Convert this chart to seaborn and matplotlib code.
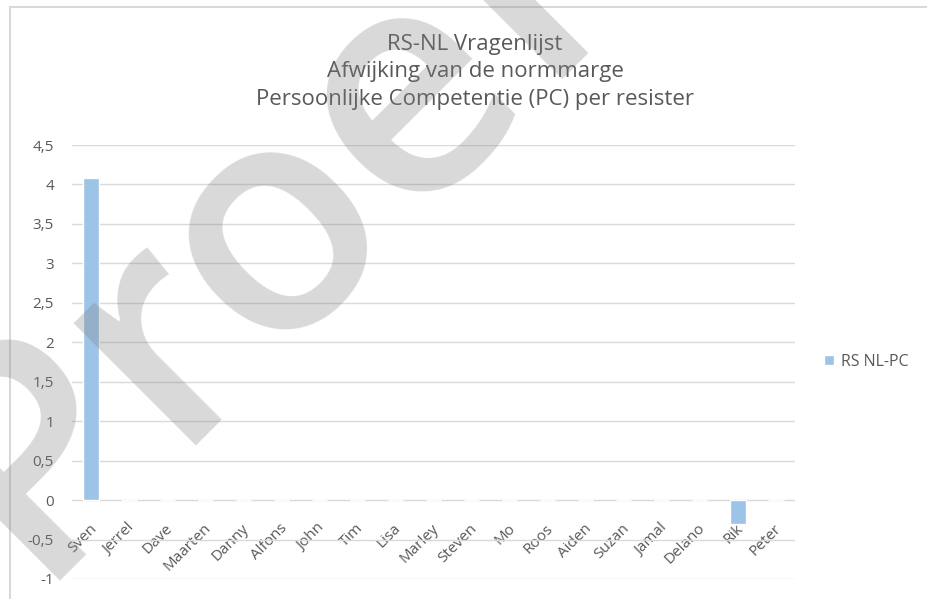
import matplotlib
matplotlib.use("Agg")
import matplotlib.pyplot as plt
import matplotlib.transforms as mtrans
import seaborn as sns
import pandas as pd
from matplotlib.patches import Rectangle, Patch
from matplotlib.ticker import FuncFormatter

# ==========================================
# DATA
# ==========================================
namen = ["Sven", "Jerrel", "Dave", "Maarten", "Danny", "Alfons", "John", "Tim",
         "Lisa", "Marley", "Steven", "Mo", "Roos", "Aiden", "Suzan", "Jamal",
         "Delano", "Rik", "Peter"]
afwijking = [4.08, 0, 0, 0, 0, 0, 0, 0, 0, 0, 0, 0, 0, 0, 0, 0, 0, -0.30, 0]
serie = "RS NL-PC"
titel = "RS-NL Vragenlijst\nAfwijking van de normmarge\nPersoonlijke Competentie (PC) per resister"
yticks = [-1, -0.5, 0, 0.5, 1, 1.5, 2, 2.5, 3, 3.5, 4, 4.5]

df = pd.DataFrame({"naam": namen, "waarde": afwijking})

sns.set_theme(style="white")
plt.rcParams["font.family"] = ["Open Sans", "DejaVu Sans"]

tekst = "#595959"
grid = "#d9d9d9"
blauw = "#9dc3e6"

fig = plt.figure(figsize=(9.27, 5.99), dpi=100)
ax = fig.add_axes([72 / 927, 1 - 579 / 599, (795 - 72) / 927, (579 - 145) / 599])

sns.barplot(data=df, x="naam", y="waarde", color=blauw, width=0.4,
            saturation=1, ax=ax, zorder=3)

# ==========================================
# ASSEN
# ==========================================
ax.set_ylim(-1, 4.5)
ax.set_yticks(yticks)
ax.yaxis.set_major_formatter(FuncFormatter(lambda v, p: f"{v:g}".replace(".", ",")))
ax.grid(axis="y", color=grid, linewidth=1, zorder=0)
ax.set_axisbelow(True)
for s in ax.spines.values():
    s.set_visible(False)
ax.spines["bottom"].set_position(("data", 0))
ax.tick_params(axis="both", length=0, labelsize=11, labelcolor=tekst)
ax.tick_params(axis="y", pad=13)
ax.tick_params(axis="x", pad=15)
ax.set_xticks(range(len(namen)))
ax.set_xticklabels(namen, rotation=45, ha="right", rotation_mode="anchor")
verschuif = mtrans.ScaledTranslation(-2 / 100, 0, fig.dpi_scale_trans)
for lbl in ax.get_xticklabels():
    lbl.set_transform(lbl.get_transform() + verschuif)
ax.set_xlabel("")
ax.set_ylabel("")

# titel (drie regels, gecentreerd)
fig.text(475 / 927, 1 - 72 / 599, titel, ha="center", va="center",
         fontsize=16, color=tekst, linespacing=1.4)

# legenda rechts
ax.legend(handles=[Patch(facecolor=blauw, label=serie)], loc="center left",
          bbox_to_anchor=(810 / 927, 1 - 362 / 599), bbox_transform=fig.transFigure,
          frameon=False, fontsize=11.5, labelcolor=tekst, handlelength=0.6,
          handleheight=0.6, handletextpad=0.45)

# rand van het grafiekgebied
fig.patches.append(Rectangle((10 / 927, -0.1), 1.2, 1 - 7 / 599 + 0.1,
                             transform=fig.transFigure, fill=False,
                             edgecolor=grid, linewidth=1.5))

# watermerk
fig.text(322 / 927, 1 - 290 / 599, "Proef", ha="center", va="baseline",
         rotation=45, rotation_mode="anchor", fontsize=230, fontweight="semibold",
         color="#808080", alpha=0.3, zorder=10)

fig.savefig("out.png", dpi=100)
